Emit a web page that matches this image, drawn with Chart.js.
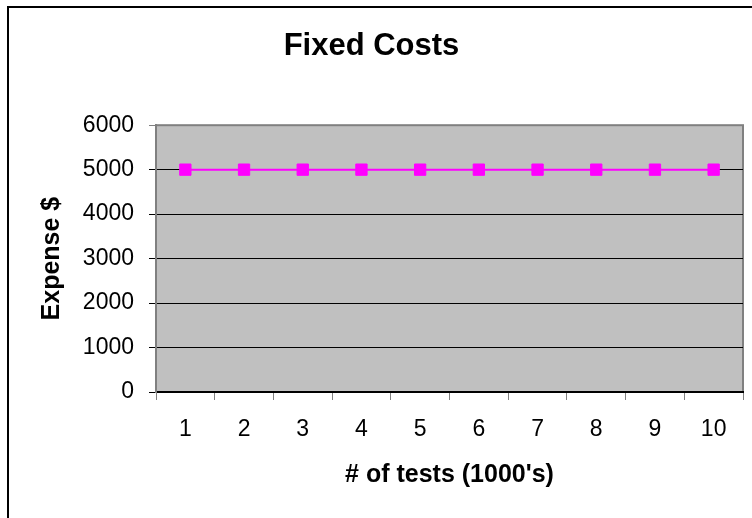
<!DOCTYPE html>
<html>
<head>
<meta charset="utf-8">
<script src="https://cdn.jsdelivr.net/npm/chart.js@4"></script>
<style>
  html, body { margin: 0; padding: 0; background: #fff; overflow: hidden; }
  #frame { position: absolute; left: 7px; top: 6px; width: 800px; height: 600px; border: 2px solid #000; }
  #wrap { position: absolute; left: 0; top: 0; width: 752px; height: 518px; }
</style>
</head>
<body>
<div id="frame"></div>
<div id="wrap"><canvas id="myChart" width="752" height="518"></canvas></div>
<script>
var tests = ['1', '2', '3', '4', '5', '6', '7', '8', '9', '10'];
var fixedCost = [5000, 5000, 5000, 5000, 5000, 5000, 5000, 5000, 5000, 5000];
var yTicks = [0, 1000, 2000, 3000, 4000, 5000, 6000];

// gray plot area with border
var plotBack = {
  id: 'plotBack',
  beforeDraw: function (chart) {
    var a = chart.chartArea, c = chart.ctx;
    c.save();
    c.fillStyle = '#c0c0c0';
    c.fillRect(a.left, a.top, a.right - a.left, a.bottom - a.top);
    c.strokeStyle = '#808080';
    c.lineWidth = 2;
    c.strokeRect(a.left, a.top, a.right - a.left, a.bottom - a.top);
    c.restore();
  }
};

var ctx = document.getElementById('myChart').getContext('2d');
var myChart = new Chart(ctx, {
  type: 'line',
  data: {
    labels: tests,
    datasets: [{
      label: 'Fixed Costs',
      data: fixedCost,
      borderColor: '#ff00ff',
      backgroundColor: '#ff00ff',
      borderWidth: 2,
      pointStyle: 'rect',
      pointRadius: 8,
      pointBorderWidth: 1,
      pointBorderColor: '#ff00ff',
      pointBackgroundColor: '#ff00ff'
    }]
  },
  options: {
    responsive: false,
    animation: false,
    layout: { padding: { left: 0, right: 9, top: 0, bottom: 0 } },
    plugins: {
      legend: { display: false },
      tooltip: { enabled: false },
      title: {
        display: true,
        text: 'Fixed Costs',
        color: '#000',
        font: { family: 'Liberation Sans', size: 31, weight: 'bold' },
        padding: { top: 28, bottom: 60 }
      }
    },
    scales: {
      x: {
        offset: true,
        afterFit: function (s) { s.height = 126; },
        grid: { offset: true, drawOnChartArea: false, tickLength: 8, color: '#808080', lineWidth: 1 },
        border: { color: '#000', width: 2 },
        ticks: { color: '#000', padding: 16, font: { family: 'Liberation Sans', size: 23 } },
        title: {
          display: true,
          text: "# of tests (1000's)",
          color: '#000',
          font: { family: 'Liberation Sans', size: 25, weight: 'bold' },
          padding: { top: 0, bottom: 28 }
        }
      },
      y: {
        min: 0,
        max: 6000,
        afterFit: function (s) { s.width = 156; },
        afterBuildTicks: function (s) { s.ticks = yTicks.map(function (v) { return { value: v }; }); },
        grid: {
          tickLength: 7,
          lineWidth: 1,
          color: function (c) { return c.tick && c.tick.value === 6000 ? '#808080' : '#000'; }
        },
        border: { color: '#808080', width: 2 },
        ticks: {
          color: '#000',
          padding: 15,
          font: { family: 'Liberation Sans', size: 23 },
          callback: function (v) { return String(v); }
        },
        title: {
          display: true,
          text: 'Expense $',
          color: '#000',
          font: { family: 'Liberation Sans', size: 25, weight: 'bold' },
          padding: { top: 37, bottom: 0 }
        }
      }
    }
  },
  plugins: [plotBack]
});
</script>
</body>
</html>
